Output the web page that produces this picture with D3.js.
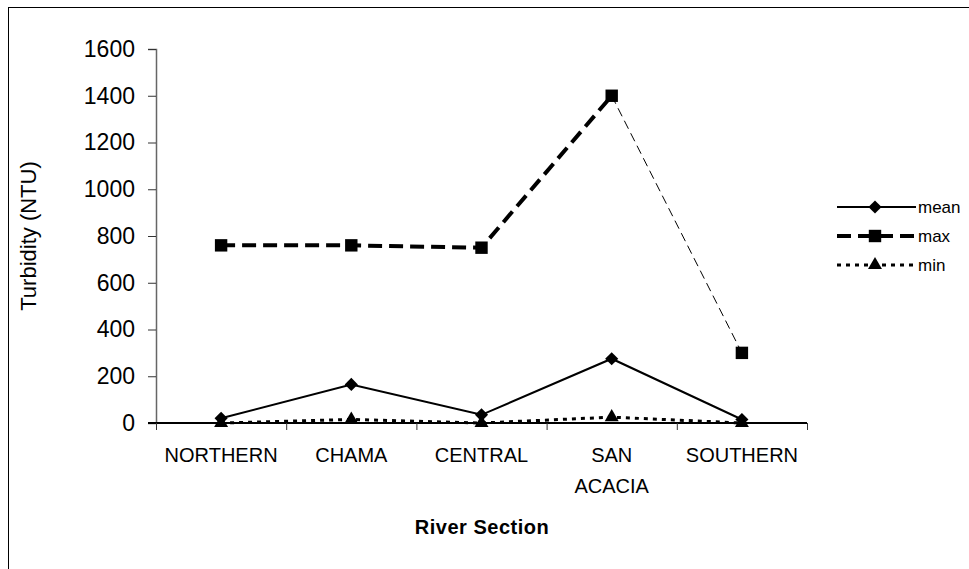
<!DOCTYPE html>
<html>
<head>
<meta charset="utf-8">
<script src="https://cdn.jsdelivr.net/npm/d3@7"></script>
<style>
  body { margin: 0; background: #fff; }
  svg text { font-family: "Liberation Sans", Arial, sans-serif; fill: #000; }
</style>
</head>
<body>
<div id="chart"></div>
<script>
const sections = ["NORTHERN", "CHAMA", "CENTRAL", "SAN ACACIA", "SOUTHERN"];
const meanVals = [20, 165, 35, 275, 15];
const maxVals = [760, 760, 750, 1400, 300];
const minVals = [0, 15, 0, 25, 0];
const yTicks = [0, 200, 400, 600, 800, 1000, 1200, 1400, 1600];

const W = 969, H = 569;
const plot = { left: 156, right: 807, top: 49, bottom: 423 };

const svg = d3.select("#chart").append("svg")
  .attr("width", W).attr("height", H);

// outer chart border
svg.append("rect")
  .attr("x", 8.5).attr("y", 7.5)
  .attr("width", 980).attr("height", 580)
  .attr("fill", "none").attr("stroke", "#000").attr("stroke-width", 1);

const x = d3.scaleBand().domain(sections).range([plot.left, plot.right]);
const xEdge = d3.scaleLinear().domain([0, sections.length]).range([plot.left, plot.right]);
const y = d3.scaleLinear().domain([0, 1600]).range([plot.bottom, plot.top]);
const cx = d => x(d) + x.bandwidth() / 2;

// y axis
const yAxis = svg.append("g")
  .attr("transform", `translate(${plot.left},0)`)
  .call(d3.axisLeft(y).tickValues(yTicks).tickSize(8).tickPadding(13).tickFormat(d3.format("d")));
yAxis.select(".domain").attr("stroke", "#666").attr("stroke-width", 1.5);
yAxis.selectAll(".tick line").attr("stroke", "#333");
yAxis.selectAll("text").style("font-size", "23px");

// x axis with ticks on category boundaries
const xAxis = svg.append("g")
  .attr("transform", `translate(0,${plot.bottom})`)
  .call(d3.axisBottom(xEdge).tickValues(d3.range(sections.length + 1)).tickSize(7).tickFormat(""));
xAxis.select(".domain").attr("stroke", "#000").attr("stroke-width", 2).attr("d", `M${plot.left - 8},0H${plot.right}`);
xAxis.selectAll(".tick line").attr("stroke", "#333");

// category labels
svg.append("g").selectAll("text")
  .data(sections)
  .join("text")
  .attr("text-anchor", "middle")
  .style("font-size", "20px")
  .attr("transform", d => `translate(${cx(d)},${plot.bottom + 39})`)
  .each(function(d) {
    d.split(" ").forEach((w, i) => {
      d3.select(this).append("tspan").attr("x", 0).attr("y", i * 31).text(w);
    });
  });

// axis titles
svg.append("text")
  .attr("transform", `translate(36,${(plot.top + plot.bottom) / 2}) rotate(-90)`)
  .attr("text-anchor", "middle")
  .style("font-size", "22px")
  .text("Turbidity (NTU)");

svg.append("text")
  .attr("x", 482).attr("y", 534)
  .attr("text-anchor", "middle")
  .style("font-size", "20px").style("font-weight", "bold")
  .style("letter-spacing", "0.5px")
  .text("River Section");

const line = d3.line().x(d => cx(d.k)).y(d => y(d.v));
const pts = vals => sections.map((k, i) => ({ k, v: vals[i] }));

const series = [
  { name: "mean", vals: meanVals, dash: null, width: 2, marker: d3.symbolDiamond2, size: 110 },
  { name: "max", vals: maxVals, dash: "14,7", width: 4, marker: d3.symbolSquare2, size: 196 },
  { name: "min", vals: minVals, dash: "4,5", width: 3, marker: d3.symbolTriangle2, size: 140 }
];

series.forEach(s => {
  const p = pts(s.vals);
  if (s.name === "max") {
    // the last max segment is drawn thin in the original
    svg.append("path").attr("d", line(p.slice(0, 4)))
      .attr("fill", "none").attr("stroke", "#000")
      .attr("stroke-width", s.width).attr("stroke-dasharray", s.dash);
    svg.append("path").attr("d", line(p.slice(3)))
      .attr("fill", "none").attr("stroke", "#000")
      .attr("stroke-width", 1).attr("stroke-dasharray", "9,5");
  } else {
    svg.append("path").attr("d", line(p))
      .attr("fill", "none").attr("stroke", "#000")
      .attr("stroke-width", s.width).attr("stroke-dasharray", s.dash);
  }
});

// markers drawn after lines
series.forEach(s => {
  svg.append("g").selectAll("path")
    .data(pts(s.vals))
    .join("path")
    .attr("d", d3.symbol().type(s.marker).size(s.size))
    .attr("transform", d => `translate(${cx(d.k)},${y(d.v)})`)
    .attr("fill", "#000");
});

// legend
const legend = svg.append("g");
series.forEach((s, i) => {
  const ly = 207 + i * 29;
  legend.append("line")
    .attr("x1", 837).attr("x2", 916).attr("y1", ly).attr("y2", ly)
    .attr("stroke", "#000").attr("stroke-width", s.width)
    .attr("stroke-dasharray", s.dash);
  legend.append("path")
    .attr("d", d3.symbol().type(s.marker).size(s.size))
    .attr("transform", `translate(875,${ly})`)
    .attr("fill", "#000");
  legend.append("text")
    .attr("x", 918).attr("y", ly + 6)
    .style("font-size", "17px")
    .text(s.name);
});
</script>
</body>
</html>
